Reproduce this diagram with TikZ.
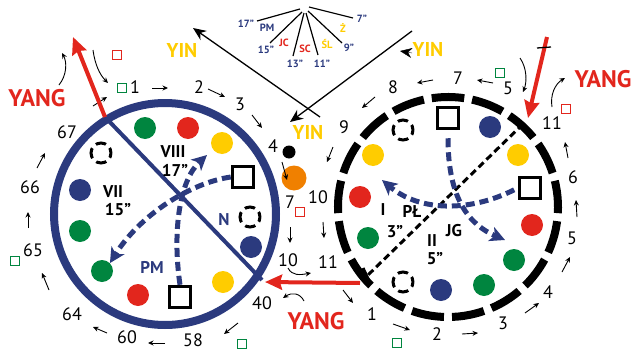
\documentclass[tikz,border=0pt]{standalone}
\usepackage{fontspec}
\setmainfont{PT Sans}
\usetikzlibrary{arrows.meta}
\definecolor{nblue}{RGB}{43,58,126}
\definecolor{nred}{RGB}{226,38,29}
\definecolor{nyellow}{RGB}{255,204,0}
\definecolor{ngreen}{RGB}{0,133,63}
\definecolor{norange}{RGB}{240,128,0}
\begin{document}
\begin{tikzpicture}[x=1pt,y=-1pt,
  dot/.style={circle,fill=#1,inner sep=0pt,minimum size=22pt},
  box/.style={draw,line width=3.5pt,inner sep=0pt,minimum size=21pt},
  ring/.style={draw,circle,line width=3pt,inner sep=0pt,minimum size=20pt,dash pattern=on 10.5pt off 5.2pt,dash phase=5.25pt},
  tiny/.style={draw=#1,line width=1.2pt,inner sep=0pt,minimum size=9pt},
  num/.style={inner sep=0pt,font=\fontsize{18}{18}\selectfont},
  lab/.style={inner sep=0pt,font=\fontsize{17}{17}\selectfont\bfseries},
  fan/.style={inner sep=0pt,font=\fontsize{10.5}{10.5}\selectfont\bfseries},
  yin/.style={inner sep=0pt,text=nyellow,font=\fontsize{20}{20}\selectfont\bfseries},
  yang/.style={inner sep=0pt,text=nred,font=\fontsize{24}{24}\selectfont\bfseries},
  sar/.style={-{Stealth[length=5.5pt,width=5pt]},line width=0.9pt},
  rar/.style={nred,line width=4pt,-{Stealth[length=17pt,width=15pt,inset=2pt]}},
  bar/.style={nblue,line width=5pt,dash pattern=on 9pt off 5pt,-{Stealth[length=15pt,width=15pt,inset=4pt]}},
  xar/.style={line width=1.3pt,-{Stealth[length=13pt,width=11pt]}}]
\useasboundingbox (0,0) rectangle (635,351);

\node[draw=nblue,circle,line width=8pt,inner sep=0pt,minimum size=222pt] (c1) at (165,214) {};
\coordinate (c2) at (448,207);
\draw[line width=8pt,dash pattern=on 32.6pt off 8.06pt] ([shift={(-98.5:110)}]c2) arc[start angle=-98.5,end angle=261.5,radius=110];

\coordinate (p1) at (105,117);
\coordinate (p2) at (262,280);
\draw[nblue,line width=4pt] (p1) -- (p2);
\coordinate (q1) at (523,124);
\coordinate (q2) at (367,276);
\draw[line width=3pt,dash pattern=on 7pt off 4pt] (q1) -- (q2);
\draw[line width=3pt] (363,268) -- (370,283);

\foreach \x/\y/\c [count=\i] in {145/128/ngreen,188/128/nred,222/143/nyellow,80/190/nblue,80/231/ngreen,102/271/ngreen,138/295/nred,223/282/nyellow,251/247/nblue}
  \node[dot=\c] (dl\i) at (\x,\y) {};
\foreach \x/\y/\c [count=\i] in {490/127/nblue,373/155/nyellow,518/155/nyellow,360/197/nred,368/238/ngreen,532/225/nred,514/260/ngreen,484/285/ngreen,441/290/nblue}
  \node[dot=\c] (dr\i) at (\x,\y) {};
\node[circle,fill=black,inner sep=0pt,minimum size=13pt] (k1) at (289,152) {};
\node[dot=norange,minimum size=25pt] (o1) at (294,178) {};

\foreach \x/\y [count=\i] in {101/153,250/217,403/130,403/282}
  \node[ring] (r\i) at (\x,\y) {};
\foreach \x/\y [count=\i] in {243/177,180/297,448/118,530/188}
  \node[box] (bx\i) at (\x,\y) {};

\coordinate (t2) at (207,155);
\coordinate (t3) at (505,240);
\coordinate (t4) at (382,180);
\draw[bar] (bx1.west) .. controls (190,183) and (140,215) .. (dl6.north east);
\draw[bar] (bx2.north) .. controls (172,230) and (180,180) .. (t2);
\draw[bar,shorten <=8pt] (bx3.south) .. controls (448,200) and (470,225) .. (t3);
\draw[bar,shorten <=4pt] (bx4.west) .. controls (470,212) and (420,212) .. (t4);

\node[lab] (l1) at (173,152) {VIII};
\node[lab] (l2) at (175,170) {17”};
\node[lab] (l3) at (113,192) {VII};
\node[lab] (l4) at (118,210) {15”};
\node[lab,text=nblue] (l5) at (224,220) {N};
\node[lab,text=nblue] (l6) at (152,267) {PM};
\node[lab] (l7) at (383,210) {I};
\node[lab] (l8) at (412,211) {PŁ};
\node[lab] (l9) at (395,232) {3”};
\node[lab] (l10) at (454,231) {JG};
\node[lab] (l11) at (432,241) {II};
\node[lab] (l12) at (435,259) {5”};

\foreach \x/\y/\t [count=\i] in {135/87/1,199/87/2,240/104/3,273/146/4,290/202/7,288/260/10,262/303/40,193/340/58,127/337/60,72/314/64,33/250/65,30/187/66,67/132/67}
  \node[num] (nl\i) at (\x,\y) {\t};
\foreach \x/\y/\t [count=\i] in {393/87/8,458/78/7,508/88/5,552/123/11,573/177/6,572/238/5,548/292/4,503/323/3,437/334/2,372/314/1,328/262/11,318/197/10,344/127/9}
  \node[num] (nr\i) at (\x,\y) {\t};

\foreach \a/\b/\c/\d in {152/88/168/88,208/89/225/97,252/115/262/128,282/162/287/180,290/227/290/243,238/323/224/334,165/343/148/343,107/333/93/327,49/290/42/273,28/228/28/212,37/168/45/153,93/106/107/97,433/80/417/83,493/83/477/80,568/158/565/142,577/217/576/200,562/272/570/257,525/313/539/303,462/334/478/333,393/324/410/330,343/290/353/303,323/222/324/238,333/147/327/162,375/97/362/108}
  \draw[sar] (\a,\b) -- (\c,\d);
\draw[sar] (59,85) .. controls (67,75) and (67,62) .. (62,53);
\draw[sar] (93,50) .. controls (95,65) and (100,75) .. (108,83);
\draw[sar] (520,58) .. controls (527,68) and (527,82) .. (523,92);
\draw[sar] (552,107) .. controls (550,95) and (555,84) .. (565,78);
\draw[sar] (288,268) .. controls (292,276) and (300,275) .. (311,273);
\draw[sar] (304,301) .. controls (300,293) and (292,292) .. (283,298);

\foreach \x/\y [count=\i] in {122/88,15/261,242/344,500/73,397/343}
  \node[tiny=ngreen] (gs\i) at (\x,\y) {};
\foreach \x/\y [count=\i] in {117/55,300/212,566/109}
  \node[tiny=nred] (rs\i) at (\x,\y) {};

\coordinate (y1) at (73,37);
\coordinate (y2) at (547,37);
\coordinate (y3) at (528,118);
\coordinate (y4) at (360,283);
\coordinate (y5) at (265,282);
\draw[rar] (p1) -- (y1);
\draw[rar] (y2) -- (y3);
\draw[line width=1.3pt] (537,48) -- (551,47);
\draw[rar] (y4) -- (y5);

\node[yang] (g1) at (37,98) {YANG};
\node[yang] (g2) at (603,79) {YANG};
\node[yang] (g3) at (316,321) {YANG};
\node[yin] (v1) at (182,50) {YIN};
\node[yin] (v2) at (428,49) {YIN};
\node[yin] (v3) at (308,132) {YIN};

\coordinate (x1) at (320,117);
\coordinate (x2) at (193,28);
\coordinate (x3) at (412,31);
\coordinate (x4) at (290,122);
\draw[xar] (x1) -- (x2);
\draw[xar] (x3) -- (x4);
\draw[-{Stealth[length=12pt,width=10pt]}] (412,53) -- (400,51);

\node[fan,text=nblue] (f1) at (246,24) {17”};
\node[fan,text=nblue] (f2) at (267,28) {PM};
\node[fan,text=nblue] (f3) at (266,50) {15”};
\node[fan,text=nred] (f4) at (284,43) {JC};
\node[fan,text=nred] (f5) at (305,49) {SC};
\node[fan,text=nblue] (f6) at (295,64) {13”};
\node[fan,text=nblue] (f7) at (322,64) {11”};
\node[fan,text=nyellow] (f8) at (327,44) {ŚL};
\node[fan,text=nblue] (f9) at (349,48) {9”};
\node[fan,text=nyellow] (f10) at (343,28) {Ż};
\node[fan,text=nblue] (f11) at (362,19) {7”};
\foreach \a/\b/\c/\d in {300/9/257/21,302/12/270/43,304/13/293/56,306/13/318/55,308/11/342/43,309/7/353/18}
  \draw[line width=1.2pt] (\a,\b) -- (\c,\d);
\end{tikzpicture}
\end{document}
